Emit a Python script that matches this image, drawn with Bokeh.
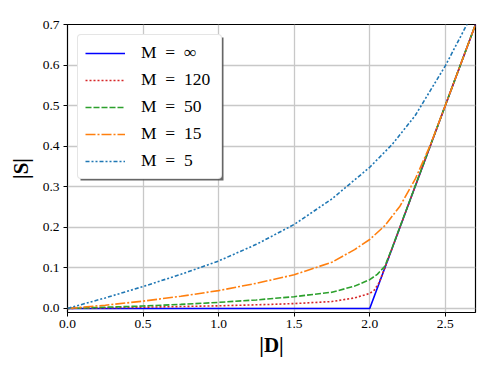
from bokeh.plotting import figure
from bokeh.models import (Range1d, FixedTicker, NumeralTickFormatter, Legend,
                          LegendItem, BoxAnnotation)
from bokeh.embed import file_html
from bokeh.resources import INLINE

# ---- data ----
d_inf = [0.0, 2.0, 2.7]
s_inf = [0.0, 0.0, 0.7]

d_120 = [0.0, 0.5, 1.0, 1.35, 1.5, 1.75, 1.9, 2.0, 2.03, 2.06, 2.1, 2.7]
s_120 = [0.0, 0.003, 0.0065, 0.010, 0.012, 0.017, 0.026, 0.037, 0.045, 0.062, 0.1, 0.7]

d_50 = [0.0, 0.25, 0.5, 0.75, 1.0, 1.25, 1.5, 1.75, 1.9, 2.0, 2.05, 2.1, 2.15, 2.7]
s_50 = [0.0, 0.003, 0.006, 0.010, 0.015, 0.021, 0.029, 0.040, 0.055, 0.071, 0.084, 0.104, 0.151, 0.7]

d_15 = [0.0, 0.25, 0.5, 0.75, 1.0, 1.25, 1.5, 1.75, 1.9, 2.0, 2.1, 2.2, 2.3, 2.4, 2.5, 2.7]
s_15 = [0.0, 0.008, 0.018, 0.030, 0.044, 0.062, 0.083, 0.114, 0.145, 0.170, 0.204,
        0.252, 0.318, 0.402, 0.5, 0.7]

d_5 = [0.0, 0.25, 0.5, 0.75, 1.0, 1.25, 1.5, 1.75, 2.0, 2.15, 2.3, 2.5, 2.65, 2.7]
s_5 = [0.0, 0.026, 0.054, 0.084, 0.117, 0.158, 0.207, 0.27, 0.348, 0.405, 0.475,
       0.598, 0.705, 0.745]

labels = ["M\u2002=\u2002\u221e", "M\u2002=\u2002120", "M\u2002=\u200250",
          "M\u2002=\u200215", "M\u2002=\u20025"]
x_ticks = [0.0, 0.5, 1.0, 1.5, 2.0, 2.5]
y_ticks = [0.0, 0.1, 0.2, 0.3, 0.4, 0.5, 0.6, 0.7]

FONT = "Liberation Serif"

p = figure(width=498, height=374, output_backend="svg", toolbar_location=None,
           x_range=Range1d(0.0, 2.7), y_range=Range1d(-0.01, 0.7),
           min_border_left=67, min_border_right=23, min_border_top=24,
           min_border_bottom=62)

p.outline_line_color = "black"
p.outline_line_width = 1.2
p.background_fill_color = "white"
p.border_fill_color = "white"

for ax in (p.xaxis[0], p.yaxis[0]):
    ax.axis_line_color = None
    ax.major_tick_line_color = "black"
    ax.major_tick_in = 0
    ax.major_tick_out = 4
    ax.minor_tick_line_color = None
    ax.major_label_text_font = FONT
    ax.major_label_text_font_size = "13.5px"
    ax.major_label_text_color = "black"
    ax.axis_label_text_font = FONT
    ax.axis_label_text_font_size = "21px"
    ax.axis_label_text_font_style = "bold"
    ax.axis_label_text_color = "black"
    ax.formatter = NumeralTickFormatter(format="0.0")

p.xaxis.ticker = FixedTicker(ticks=x_ticks)
p.yaxis.ticker = FixedTicker(ticks=y_ticks)
p.xaxis.axis_label = "|D|"
p.yaxis.axis_label = "|S|"
p.xaxis.major_label_standoff = 3
p.yaxis.major_label_standoff = 4
p.xaxis.axis_label_standoff = 2
p.yaxis.axis_label_standoff = 7

p.grid.grid_line_color = "#c8c8c8"
p.grid.grid_line_width = 1.3
p.xgrid.ticker = FixedTicker(ticks=x_ticks)
p.ygrid.ticker = FixedTicker(ticks=y_ticks)

r_inf = p.line(d_inf, s_inf, line_color="#0000ff", line_width=1.6)
r_120 = p.line(d_120, s_120, line_color="#d62728", line_width=1.6, line_dash="2 2")
r_50 = p.line(d_50, s_50, line_color="#2ca02c", line_width=1.6, line_dash="6 2")
r_15 = p.line(d_15, s_15, line_color="#ff7f0e", line_width=1.6, line_dash="10 2 2 2")
r_5 = p.line(d_5, s_5, line_color="#1f77b4", line_width=1.6, line_dash="4 2 2 2 2 2")

# legend shadow (offset 3 px right / down from the legend box)
shadow = BoxAnnotation(left=80, right=223, top=37, bottom=180,
                       left_units="canvas", right_units="canvas",
                       top_units="canvas", bottom_units="canvas",
                       fill_color="#555555", fill_alpha=0.9, line_color=None)
p.add_layout(shadow)

legend = Legend(items=[LegendItem(label=l, renderers=[r]) for l, r in
                       zip(labels, [r_inf, r_120, r_50, r_15, r_5])],
                location="top_left", margin=10, padding=7, spacing=6,
                label_height=20, glyph_height=20, glyph_width=40,
                label_standoff=16, label_width=73,
                label_text_font=FONT, label_text_font_size="17.5px",
                label_text_color="black",
                border_line_color="#cccccc", border_line_width=1,
                background_fill_color="white", background_fill_alpha=1.0)
if "border_radius" in Legend.properties():
    legend.border_radius = 4
p.add_layout(legend)

open("out.html", "w").write(file_html(p, INLINE))
